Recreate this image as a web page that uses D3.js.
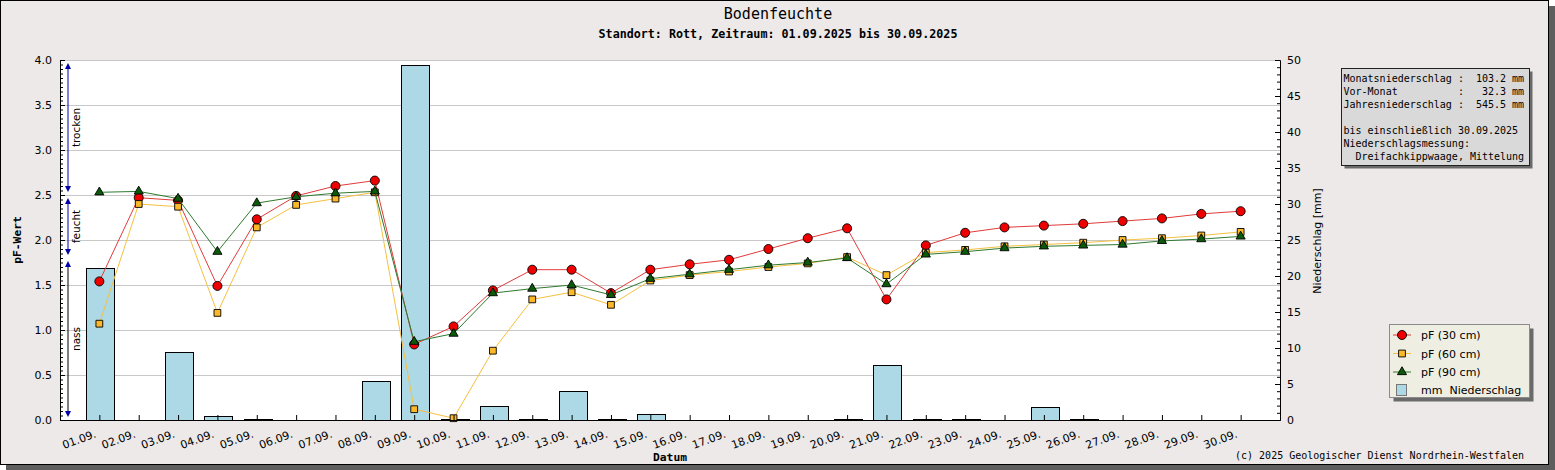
<!DOCTYPE html>
<html>
<head>
<meta charset="utf-8">
<script src="https://cdn.jsdelivr.net/npm/d3@7"></script>
<style>
body { margin: 0; background: #fff; }
svg { display: block; }
</style>
</head>
<body>
<div id="chart"></div>
<script>
// Tageswerte September 2025, Standort Rott
const days = ['01.09.', '02.09.', '03.09.', '04.09.', '05.09.', '06.09.', '07.09.', '08.09.', '09.09.', '10.09.',
    '11.09.', '12.09.', '13.09.', '14.09.', '15.09.', '16.09.', '17.09.', '18.09.', '19.09.', '20.09.',
    '21.09.', '22.09.', '23.09.', '24.09.', '25.09.', '26.09.', '27.09.', '28.09.', '29.09.', '30.09.'];
const pf30 = [1.54, 2.47, 2.44, 1.49, 2.23, 2.49, 2.60, 2.66, 0.84, 1.04,
    1.44, 1.67, 1.67, 1.41, 1.67, 1.73, 1.78, 1.90, 2.02, 2.13,
    1.34, 1.94, 2.08, 2.14, 2.16, 2.18, 2.21, 2.24, 2.29, 2.32];
const pf60 = [1.07, 2.40, 2.37, 1.19, 2.14, 2.39, 2.46, 2.53, 0.12, 0.02,
    0.77, 1.34, 1.42, 1.28, 1.55, 1.61, 1.65, 1.70, 1.74, 1.81,
    1.61, 1.86, 1.89, 1.93, 1.95, 1.97, 2.00, 2.02, 2.05, 2.09];
const pf90 = [2.53, 2.54, 2.46, 1.87, 2.41, 2.48, 2.52, 2.54, 0.87, 0.96,
    1.41, 1.46, 1.50, 1.39, 1.57, 1.62, 1.67, 1.72, 1.75, 1.80,
    1.51, 1.84, 1.87, 1.91, 1.93, 1.94, 1.95, 1.99, 2.01, 2.04];
const rain = [21.1, 0, 9.5, 0.5, 0.1, 0, 0, 5.4, 49.3, 0.1,
    1.9, 0.2, 4.0, 0.1, 0.8, 0, 0, 0, 0, 0.2,
    7.6, 0.1, 0.2, 0, 1.8, 0.2, 0, 0, 0, 0];

const seriesNames = ['pF (30 cm)', 'pF (60 cm)', 'pF (90 cm)'];
const rainName = 'mm  Niederschlag';

const zones = [
    {label: 'trocken', from: 2.5, to: 4.0},
    {label: 'feucht', from: 1.8, to: 2.5},
    {label: 'nass', from: 0.0, to: 1.8}
];

const infoLines = [
    'Monatsniederschlag :  103.2 mm',
    'Vor-Monat          :   32.3 mm',
    'Jahresniederschlag :  545.5 mm',
    '',
    'bis einschließlich 30.09.2025',
    'Niederschlagsmessung:',
    '  Dreifachkippwaage, Mittelung'
];

const title = 'Bodenfeuchte';
const subtitle = 'Standort: Rott, Zeitraum: 01.09.2025 bis 30.09.2025';
const copyright = '(c) 2025 Geologischer Dienst Nordrhein-Westfalen';

const W = 1555, H = 470;
const plot = {left: 60, right: 1280, top: 60, bottom: 420};
const SANS = 'DejaVu Sans, Verdana, sans-serif';
const MONO = 'DejaVu Sans Mono, monospace';

const svg = d3.select('#chart').append('svg')
    .attr('width', W)
    .attr('height', H);

// frame + shadow
svg.append('rect').attr('x', 6).attr('y', 6).attr('width', W - 6).attr('height', H - 6).attr('fill', '#5e5e5e');
svg.append('rect').attr('x', 0.5).attr('y', 0.5).attr('width', 1548).attr('height', 464)
    .attr('fill', '#ece9e8').attr('stroke', '#000');

svg.append('text').attr('x', 778).attr('y', 19).attr('text-anchor', 'middle')
    .style('font-family', MONO).style('font-size', '15px').text(title);
svg.append('text').attr('x', 778).attr('y', 38).attr('text-anchor', 'middle')
    .style('font-family', MONO).style('font-size', '11.7px').style('font-weight', 'bold').text(subtitle);

const x = d3.scaleLinear().domain([0, days.length + 1]).range([plot.left, plot.right]);
const yL = d3.scaleLinear().domain([0, 4]).range([plot.bottom, plot.top]);
const yR = d3.scaleLinear().domain([0, 50]).range([plot.bottom, plot.top]);

svg.append('rect')
    .attr('x', plot.left).attr('y', plot.top)
    .attr('width', plot.right - plot.left).attr('height', plot.bottom - plot.top)
    .attr('fill', '#fff');

// grid
svg.append('g').selectAll('line')
    .data(d3.range(0.5, 4.01, 0.5))
    .enter().append('line')
    .attr('x1', plot.left).attr('x2', plot.right)
    .attr('y1', d => Math.round(yL(d)) + 0.5).attr('y2', d => Math.round(yL(d)) + 0.5)
    .attr('stroke', '#c8c8c8');

// precipitation bars
const rainData = rain.map((v, i) => ({day: i + 1, v: v})).filter(d => d.v > 0);
svg.append('g').selectAll('rect')
    .data(rainData)
    .enter().append('rect')
    .attr('x', d => Math.round(x(d.day)) - 12.5)
    .attr('y', d => Math.round(yR(d.v)) + 0.5)
    .attr('width', 28)
    .attr('height', d => Math.max(0, Math.round(yR(0)) - Math.round(yR(d.v))))
    .attr('fill', '#add8e6')
    .attr('stroke', '#000');

// series
const series = [
    {name: seriesNames[0], values: pf30, line: '#e23a3a', fill: '#ee0000', sym: d3.symbolCircle, size: 64},
    {name: seriesNames[1], values: pf60, line: '#f5c040', fill: '#fbb829', sym: d3.symbolSquare, size: 46},
    {name: seriesNames[2], values: pf90, line: '#2f7a2f', fill: '#0a5a0a', sym: d3.symbolTriangle, size: 36}
];

const line = d3.line()
    .x((d, i) => x(i + 1))
    .y(d => yL(d));

series.forEach(function (s) {
    const g = svg.append('g');
    g.append('path')
        .attr('d', line(s.values))
        .attr('fill', 'none')
        .attr('stroke', s.line)
        .attr('stroke-width', 1);
    g.selectAll('path.m')
        .data(s.values)
        .enter().append('path')
        .attr('class', 'm')
        .attr('transform', (d, i) => 'translate(' + x(i + 1) + ',' + yL(d) + ')')
        .attr('d', d3.symbol().type(s.sym).size(s.size))
        .attr('fill', s.fill)
        .attr('stroke', '#000')
        .attr('stroke-width', 0.9);
});

// axes
function styleAxis(g) {
    g.selectAll('text').style('font-family', SANS).style('font-size', '11px').attr('fill', '#000');
    g.selectAll('line').attr('stroke', '#000');
    g.select('.domain').attr('stroke', '#000');
}

const leftMinor = d3.range(0, 4.001, 0.05).filter(v => Math.abs(v * 2 - Math.round(v * 2)) > 0.01);
svg.append('g')
    .attr('transform', 'translate(' + plot.left + ',0)')
    .call(d3.axisLeft(yL).tickValues(leftMinor).tickSizeInner(-3).tickSizeOuter(0).tickFormat(''))
    .call(styleAxis);
svg.append('g')
    .attr('transform', 'translate(' + plot.left + ',0)')
    .call(d3.axisLeft(yL).tickValues(d3.range(0, 4.01, 0.5)).tickSizeInner(-5).tickSizeOuter(0)
        .tickPadding(8).tickFormat(d3.format('.1f')))
    .call(styleAxis);

const rightMinor = d3.range(0, 51).filter(v => v % 5 != 0);
svg.append('g')
    .attr('transform', 'translate(' + plot.right + ',0)')
    .call(d3.axisRight(yR).tickValues(rightMinor).tickSizeInner(-3).tickSizeOuter(0).tickFormat(''))
    .call(styleAxis);
svg.append('g')
    .attr('transform', 'translate(' + plot.right + ',0)')
    .call(d3.axisRight(yR).tickValues(d3.range(0, 51, 5)).tickSizeInner(-5).tickSizeOuter(0).tickPadding(7))
    .call(styleAxis);

const xAxis = svg.append('g')
    .attr('transform', 'translate(0,' + plot.bottom + ')')
    .call(d3.axisBottom(x).tickValues(d3.range(1, days.length + 1)).tickSizeInner(-5).tickSizeOuter(0)
        .tickFormat(d => days[d - 1]))
    .call(styleAxis);
xAxis.selectAll('text')
    .attr('text-anchor', 'end')
    .attr('x', 0).attr('y', 0).attr('dy', 0)
    .attr('transform', 'translate(-3,17) rotate(-20)');

// axis titles
svg.append('text')
    .attr('transform', 'translate(' + ((plot.left + plot.right) / 2) + ',461)')
    .attr('text-anchor', 'middle')
    .style('font-family', MONO).style('font-size', '11.3px').style('font-weight', 'bold')
    .text('Datum');
svg.append('text')
    .attr('transform', 'translate(21,240) rotate(-90)')
    .attr('text-anchor', 'middle')
    .style('font-family', MONO).style('font-size', '11.3px').style('font-weight', 'bold')
    .text('pF-Wert');
svg.append('text')
    .attr('transform', 'translate(1321,241) rotate(-90)')
    .attr('text-anchor', 'middle')
    .style('font-family', SANS).style('font-size', '11px')
    .text('Niederschlag [mm]');

// moisture zones on the left
const zx = 68;
const zg = svg.append('g');
zones.forEach(function (z) {
    const yTop = yL(z.to) + 3, yBot = yL(z.from) - 3;
    const col = z.label == 'nass' ? '#000' : '#0000a8';
    zg.append('line').attr('x1', zx).attr('x2', zx).attr('y1', yTop + 3).attr('y2', yBot - 3)
        .attr('stroke', col).attr('stroke-width', 1);
    zg.append('path')
        .attr('d', 'M' + zx + ',' + yTop + 'l-3,6h6z')
        .attr('fill', '#0000a8');
    zg.append('path')
        .attr('d', 'M' + zx + ',' + yBot + 'l-3,-6h6z')
        .attr('fill', '#0000a8');
    zg.append('text')
        .attr('transform', 'translate(' + (zx + 12) + ',' + ((yTop + yBot) / 2) + ') rotate(-90)')
        .attr('text-anchor', 'middle')
        .style('font-family', SANS).style('font-size', '10.5px')
        .text(z.label);
});

// info box
const ib = {x: 1341.5, y: 68.5, w: 188, h: 97};
svg.append('rect').attr('x', ib.x + 3).attr('y', ib.y + 3).attr('width', ib.w).attr('height', ib.h).attr('fill', '#6a6a6a');
svg.append('rect').attr('x', ib.x).attr('y', ib.y).attr('width', ib.w).attr('height', ib.h)
    .attr('fill', '#d9d9d9').attr('stroke', '#222');
svg.append('g').selectAll('text')
    .data(infoLines)
    .enter().append('text')
    .attr('x', ib.x + 2)
    .attr('y', (d, i) => 82 + i * 13)
    .attr('xml:space', 'preserve')
    .style('white-space', 'pre')
    .style('font-family', MONO).style('font-size', '10px')
    .text(d => d);

// legend
const lg = {x: 1389.5, y: 324.5, w: 140, h: 73};
svg.append('rect').attr('x', lg.x + 4).attr('y', lg.y + 4).attr('width', lg.w).attr('height', lg.h).attr('fill', '#6a6a6a');
svg.append('rect').attr('x', lg.x).attr('y', lg.y).attr('width', lg.w).attr('height', lg.h)
    .attr('fill', '#eeeee2').attr('stroke', '#8a8a8a');
const rowY = [335, 353.5, 372, 390];
series.forEach(function (s, i) {
    svg.append('line').attr('x1', 1393).attr('x2', 1411).attr('y1', rowY[i]).attr('y2', rowY[i])
        .attr('stroke', s.line);
    svg.append('path')
        .attr('transform', 'translate(1402,' + rowY[i] + ')')
        .attr('d', d3.symbol().type(s.sym).size(s.size))
        .attr('fill', s.fill).attr('stroke', '#000').attr('stroke-width', 0.9);
    svg.append('text').attr('x', 1421).attr('y', rowY[i] + 4)
        .style('font-family', SANS).style('font-size', '11px').text(s.name);
});
svg.append('rect').attr('x', 1396.5).attr('y', rowY[3] - 5.5).attr('width', 10).attr('height', 11)
    .attr('fill', '#add8e6').attr('stroke', '#777');
svg.append('text').attr('x', 1421).attr('y', rowY[3] + 4)
    .attr('xml:space', 'preserve').style('white-space', 'pre')
    .style('font-family', SANS).style('font-size', '11px').text(rainName);

svg.append('text').attr('x', 1524).attr('y', 459).attr('text-anchor', 'end')
    .style('font-family', MONO).style('font-size', '10px').text(copyright);
</script>
</body>
</html>
